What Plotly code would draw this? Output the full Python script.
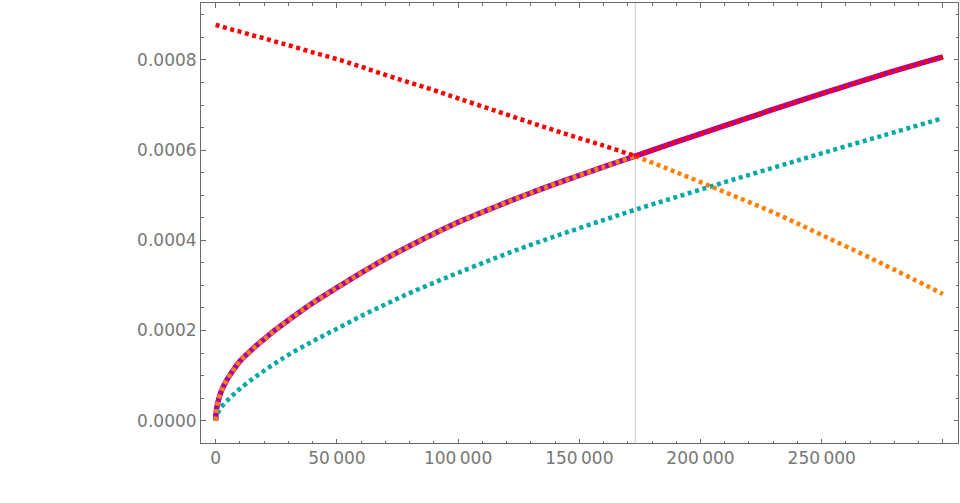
import numpy as np
import plotly.graph_objects as go

# ---- data ----
x_vals = [0, 250, 1000, 2500, 5000, 7500, 10000, 15000, 20000, 25000, 30000,
          40000, 50000, 60000, 70000, 80000, 90000, 100000, 115000, 130000,
          145000, 160000, 173100, 190000, 210000, 230000, 250000, 275000, 300000]

# rising curve (purple, solid)
rise_vals = [0, 2.2e-5, 4.3e-5, 6.8e-5, 9.4e-5, 1.14e-4, 1.32e-4, 1.58e-4, 1.81e-4,
             2.03e-4, 2.23e-4, 2.61e-4, 2.95e-4, 3.28e-4, 3.59e-4, 3.875e-4, 4.145e-4,
             4.40e-4, 4.735e-4, 5.05e-4, 5.345e-4, 5.63e-4, 5.87e-4, 6.183e-4,
             6.543e-4, 6.903e-4, 7.253e-4, 7.678e-4, 8.07e-4]

# falling curve
fall_vals = [8.78e-4, 8.776e-4, 8.765e-4, 8.742e-4, 8.70e-4, 8.66e-4, 8.63e-4, 8.55e-4,
             8.48e-4, 8.40e-4, 8.33e-4, 8.17e-4, 8.02e-4, 7.85e-4, 7.67e-4, 7.50e-4,
             7.33e-4, 7.15e-4, 6.88e-4, 6.61e-4, 6.35e-4, 6.10e-4, 5.87e-4, 5.51e-4,
             5.07e-4, 4.62e-4, 4.12e-4, 3.48e-4, 2.81e-4]

# lower curve (teal, dotted)
low_vals = [0, 6e-6, 1.8e-5, 3.1e-5, 4.6e-5, 5.9e-5, 7.1e-5, 9.2e-5, 1.11e-4, 1.29e-4,
            1.46e-4, 1.76e-4, 2.04e-4, 2.32e-4, 2.58e-4, 2.83e-4, 3.06e-4, 3.28e-4,
            3.60e-4, 3.90e-4, 4.18e-4, 4.45e-4, 4.68e-4, 4.96e-4, 5.29e-4, 5.61e-4,
            5.93e-4, 6.32e-4, 6.71e-4]

crossing_x = 173100

x_tick_vals = [0, 50000, 100000, 150000, 200000, 250000, 300000]
x_tick_text = ["0", "50\u2009000", "100\u2009000", "150\u2009000", "200\u2009000", "250\u2009000", ""]
y_tick_vals = [0, 0.0002, 0.0004, 0.0006, 0.0008]
y_tick_text = ["0.0000", "0.0002", "0.0004", "0.0006", "0.0008"]

# ---- derived ----
x = np.array(x_vals, dtype=float)
rise = np.array(rise_vals)
fall = np.array(fall_vals)
low = np.array(low_vals)
left = x <= crossing_x
right = x >= crossing_x

PURPLE = "#A800A8"
TEAL = "#00A8A8"
RED = "#FF0000"
ORANGE = "#FF8000"
FRAME = "#6a6a6a"
dot = "4px,3.6px"


def add_line(xs, ys, color, width, dash=None):
    line = dict(color=color, width=width)
    if dash:
        line["dash"] = dash
    fig.add_trace(go.Scatter(x=xs, y=ys, mode="lines", line_shape="spline",
                             line=line, hoverinfo="skip"))


fig = go.Figure()
add_line(x, rise, PURPLE, 5.5)
add_line(x, low, TEAL, 4.5, dot)
# lower envelope (orange): rising curve then falling curve
add_line(x[left], rise[left], ORANGE, 4.5, dot)
add_line(x[right], fall[right], ORANGE, 4.5, dot)
# upper envelope (red): falling curve then rising curve
add_line(x[left], fall[left], RED, 4.5, dot)
add_line(x[right], rise[right], RED, 4.5, dot)

fig.add_vline(x=crossing_x, line=dict(color="#c8c8c8", width=1), layer="below")

axis_common = dict(
    showgrid=False, zeroline=False, showline=True, linecolor=FRAME, linewidth=1,
    mirror="ticks", ticks="inside", ticklen=4.5, tickwidth=1, tickcolor=FRAME,
    tickfont=dict(family="DejaVu Sans, sans-serif", size=17, color="#777777"),
)

fig.update_xaxes(range=[-6064, 306230], tickmode="array", tickvals=x_tick_vals,
                 ticktext=x_tick_text,
                 minor=dict(dtick=10000, tick0=0, ticks="inside", ticklen=2.5,
                            tickwidth=1, tickcolor=FRAME, showgrid=False),
                 **axis_common)
fig.update_yaxes(range=[-0.00004946, 0.0009264], tickmode="array", tickvals=y_tick_vals,
                 ticktext=y_tick_text,
                 minor=dict(dtick=0.00005, tick0=0, ticks="inside", ticklen=2.5,
                            tickwidth=1, tickcolor=FRAME, showgrid=False),
                 **axis_common)

fig.update_layout(
    width=960, height=503,
    margin=dict(l=201, r=2, t=3, b=60, pad=0),
    plot_bgcolor="white", paper_bgcolor="white",
    showlegend=False,
)

fig.write_html("out.html", config={"displayModeBar": False},
               post_script="document.body.style.margin='0';document.body.style.overflow='hidden';")
